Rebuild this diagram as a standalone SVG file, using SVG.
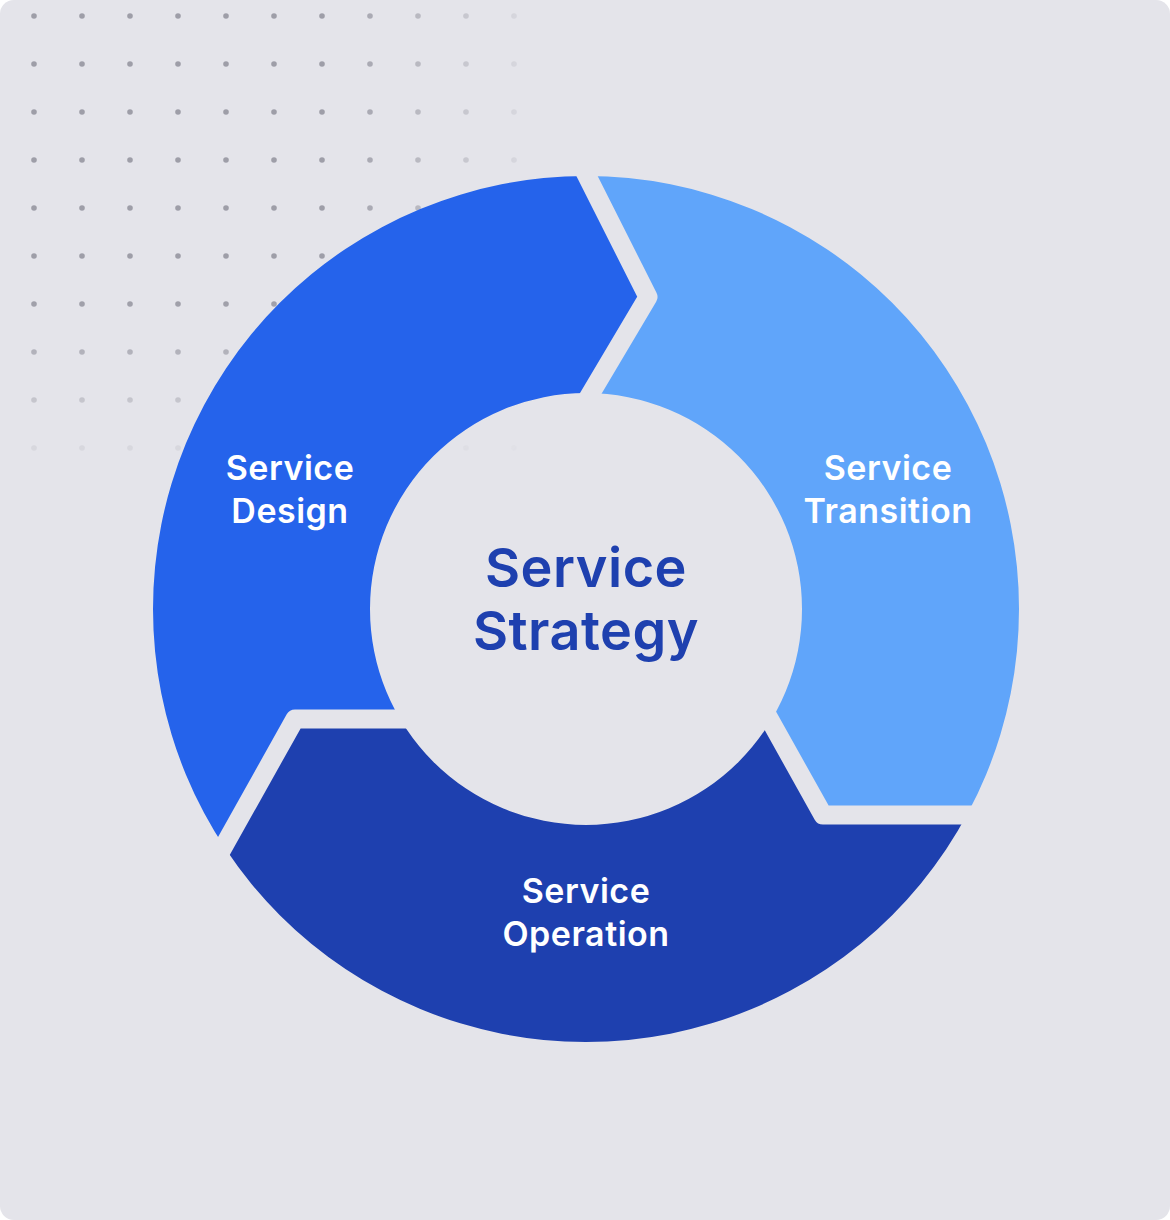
<svg xmlns="http://www.w3.org/2000/svg" width="1170" height="1220" viewBox="0 0 1170 1220">
  <style>
    .lbl { font-family: Inter, "Noto Sans", "Liberation Sans", sans-serif; font-weight: 600; font-size: 34px; letter-spacing: 0.5px; fill: #FFFFFF; text-anchor: middle; }
    .ctr { font-family: Inter, "Noto Sans", "Liberation Sans", sans-serif; font-weight: 600; font-size: 54px; letter-spacing: 0.5px; fill: #1E40AF; text-anchor: middle; }
    .gap { fill: none; stroke: #000; stroke-width: 19; stroke-linejoin: round; stroke-linecap: butt; }
  </style>
  <defs>
    <pattern id="dots" patternUnits="userSpaceOnUse" x="10" y="-8" width="48" height="48">
      <circle cx="24" cy="24" r="2.8" fill="#9E9EA8"/>
    </pattern>
    <linearGradient id="gx" gradientUnits="userSpaceOnUse" x1="330" y1="0" x2="560" y2="0">
      <stop offset="0" stop-color="#fff"/>
      <stop offset="1" stop-color="#000"/>
    </linearGradient>
    <linearGradient id="gy" gradientUnits="userSpaceOnUse" x1="0" y1="300" x2="0" y2="480">
      <stop offset="0" stop-color="#fff"/>
      <stop offset="1" stop-color="#000"/>
    </linearGradient>
    <mask id="fadeX" maskUnits="userSpaceOnUse" x="0" y="0" width="1170" height="1220">
      <rect x="0" y="0" width="1170" height="1220" fill="url(#gx)"/>
    </mask>
    <mask id="fadeY" maskUnits="userSpaceOnUse" x="0" y="0" width="1170" height="1220">
      <rect x="0" y="0" width="1170" height="1220" fill="url(#gy)"/>
    </mask>
    <clipPath id="ring">
      <path clip-rule="evenodd" d="M586,176 A433,433 0 1,1 586,1042 A433,433 0 1,1 586,176 Z M586,393 A216,216 0 1,0 586,825 A216,216 0 1,0 586,393 Z"/>
    </clipPath>
    <mask id="gaps" maskUnits="userSpaceOnUse" x="0" y="0" width="1170" height="1220">
      <rect x="0" y="0" width="1170" height="1220" fill="#fff"/>
      <path class="gap" d="M562.5,441 L648,297 L556.5,115.5"/>
      <path class="gap" d="M745,675.5 L823,815 L1010,815"/>
      <path class="gap" d="M450,719 L295,719 L190,906.5"/>
    </mask>
  </defs>

  <rect x="0" y="0" width="1170" height="1220" fill="#FFFFFF"/>
  <rect id="background" x="0" y="0" width="1170" height="1220" rx="14" ry="14" fill="#E4E4EA"/>

  <g id="dot-grid" mask="url(#fadeY)">
    <rect x="0" y="0" width="545" height="480" fill="url(#dots)" mask="url(#fadeX)"/>
  </g>

  <g id="service-design">
    <path clip-path="url(#ring)" mask="url(#gaps)" fill="#2563EB"
      d="M586,609 L562.5,441 L648,297 L556.5,115.5 L556,40 L0,40 L0,1100 L190,906.5 L295,719 L450,719 Z"/>
    <text class="lbl" x="290" y="480">Service</text>
    <text class="lbl" x="290" y="523">Design</text>
  </g>

  <g id="service-transition">
    <path clip-path="url(#ring)" mask="url(#gaps)" fill="#60A5FA"
      d="M586,609 L562.5,441 L648,297 L556.5,115.5 L556,40 L1170,40 L1170,815 L1010,815 L823,815 L745,675.5 Z"/>
    <text class="lbl" x="888" y="480">Service</text>
    <text class="lbl" x="888" y="523">Transition</text>
  </g>

  <g id="service-operation">
    <path clip-path="url(#ring)" mask="url(#gaps)" fill="#1E40AF"
      d="M586,609 L745,675.5 L823,815 L1010,815 L1170,815 L1170,1220 L0,1220 L0,1100 L190,906.5 L295,719 L450,719 Z"/>
    <text class="lbl" x="586" y="903">Service</text>
    <text class="lbl" x="586" y="946">Operation</text>
  </g>

  <g id="service-strategy">
    <text class="ctr" x="586" y="587">Service</text>
    <text class="ctr" x="586" y="650">Strategy</text>
  </g>
</svg>
